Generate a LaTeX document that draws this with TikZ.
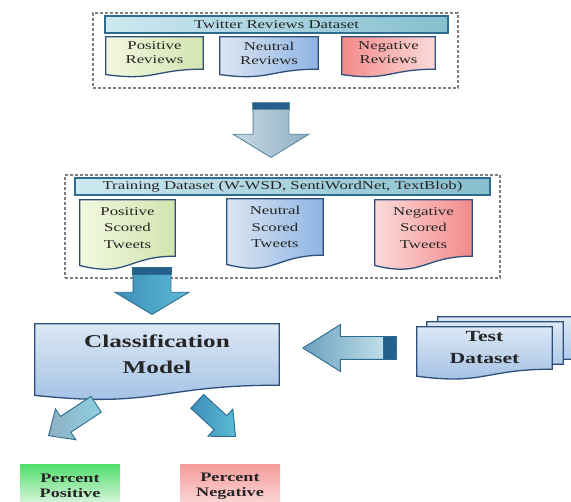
\documentclass[tikz,border=0pt]{standalone}
\usepackage{fontspec}
\setmainfont[FakeStretch=1.4]{Liberation Serif}
\usepackage{tikz}
\usetikzlibrary{shapes.arrows,calc,backgrounds}
\definecolor{docEdge}{HTML}{2C4F7C}
\definecolor{barEdge}{HTML}{2E6C8E}
\definecolor{barL}{HTML}{CDE8F0}
\definecolor{barR}{HTML}{86BFCF}
\definecolor{posL}{HTML}{F2F7DF}
\definecolor{posR}{HTML}{D3E4B0}
\definecolor{neuL}{HTML}{DCE6F2}
\definecolor{neuR}{HTML}{8EB4E3}
\definecolor{negL}{HTML}{FBDADA}
\definecolor{negR}{HTML}{F48A8A}
\definecolor{modelT}{HTML}{DCE8F5}
\definecolor{modelB}{HTML}{9FBEE3}
\definecolor{frameGray}{HTML}{7F7F7F}
\definecolor{txt}{HTML}{262626}
\definecolor{grayArrT}{HTML}{C8D9E3}
\definecolor{grayArrB}{HTML}{8FB0C4}
\definecolor{grayArrEdge}{HTML}{5C8AA3}
\definecolor{tealT}{HTML}{3D8DB8}
\definecolor{tealB}{HTML}{5CBCD4}
\definecolor{tealEdge}{HTML}{2E6A8E}
\definecolor{bandBlue}{HTML}{255F8C}
\definecolor{pctGreen}{HTML}{52DE6E}
\definecolor{pctGreenL}{HTML}{E5F8E8}
\definecolor{pctRed}{HTML}{F59C9C}
\definecolor{pctRedL}{HTML}{FCDCDC}

% outline of a document shape with a wavy lower edge, drawn round a node
\newcommand{\wavydoc}[2]{%
  \path[#2] (#1.north west) -- (#1.north east) -- (#1.south east)
    .. controls (#1.south) and ($(#1.south)!-0.38!(#1.north)$)
    .. ($(#1.south west)!-0.165!(#1.north west)$) -- cycle;}

\begin{document}
\begin{tikzpicture}[
  x=1pt, y=-1pt,
  every node/.style={text=txt},
  frame/.style={draw=frameGray, dash pattern=on 3pt off 2pt, line width=1.3pt, inner sep=0pt},
  bar/.style={draw=barEdge, line width=1.3pt, left color=barL, right color=barR, inner sep=0pt,
              font=\fontsize{12}{14}\selectfont},
  doc/.style={inner sep=0pt, align=center},
  docline/.style={draw=docEdge, line width=1.3pt},
  blockarrow/.style={single arrow, inner xsep=0pt, line width=0.9pt, anchor=tip},
  band/.style={fill=bandBlue, draw=#1, line width=0.9pt},
  pct/.style={inner sep=0pt, align=center, font=\bfseries\fontsize{13}{15}\selectfont}
]
  \useasboundingbox (0,0) rectangle (571,502);

  % input dataset
  \node[frame, minimum width=365pt, minimum height=75pt] (twframe) at (275.5,50.5) {};
  \node[bar, minimum width=343pt, minimum height=17pt] (twbar) at (276.5,24.5) {Twitter Reviews Dataset};
  \node[doc, font=\fontsize{12}{14}\selectfont, minimum width=97pt, minimum height=32pt] (posrev) at (154.5,53) {Positive\\Reviews};
  \node[doc, font=\fontsize{12}{14}\selectfont, minimum width=98pt, minimum height=32pt] (neurev) at (269,53) {Neutral\\Reviews};
  \node[doc, font=\fontsize{12}{14}\selectfont, minimum width=93pt, minimum height=32pt] (negrev) at (388.5,53) {Negative\\Reviews};

  \node[blockarrow, rotate=-90, minimum height=55pt, minimum width=75pt, inner ysep=17.5pt,
        single arrow head extend=20pt, single arrow tip angle=117,
        draw=grayArrEdge, left color=grayArrT, right color=grayArrB]
        (down1) at (271,158) {};
  \path[band=grayArrEdge] (down1.before tail) rectangle ([yshift=-7pt]down1.after tail);

  % scored training data
  \node[frame, minimum width=435pt, minimum height=103pt] (trframe) at (282.5,226.5) {};
  \node[bar, minimum width=415pt, minimum height=17pt] (trbar) at (282.5,186.5) {Training Dataset (W-WSD, SentiWordNet, TextBlob)};
  \node[doc, font=\fontsize{12}{16.5}\selectfont, minimum width=95pt, minimum height=56pt] (posscore) at (127.5,228) {Positive\\Scored\\Tweets};
  \node[doc, font=\fontsize{12}{16.5}\selectfont, minimum width=96pt, minimum height=56pt] (neuscore) at (275,227) {Neutral\\Scored\\Tweets};
  \node[doc, font=\fontsize{12}{16.5}\selectfont, minimum width=97pt, minimum height=56pt] (negscore) at (423.5,228) {Negative\\Scored\\Tweets};

  \node[blockarrow, rotate=-90, minimum height=47pt, minimum width=73pt, inner ysep=18.5pt,
        single arrow head extend=18pt, single arrow tip angle=118,
        draw=tealEdge, left color=tealT, right color=tealB]
        (down2) at (152,315) {};
  \path[band=tealEdge] (down2.before tail) rectangle ([yshift=-7pt]down2.after tail);

  % model and test data
  \node[doc, font=\bfseries\fontsize{18}{26}\selectfont, minimum width=244pt, minimum height=61pt] (model) at (157,354.5) {Classification\\Model};

  \node[doc, minimum width=136pt, minimum height=42pt] (test3) at (506,338) {};
  \node[doc, minimum width=136pt, minimum height=42pt] (test2) at (495,343) {};
  \node[doc, font=\bfseries\fontsize{15.5}{22}\selectfont, minimum width=135pt, minimum height=42pt] (test) at (484.5,348) {Test\\Dataset};

  \node[blockarrow, shape border rotate=180, minimum height=93pt, minimum width=46pt, inner ysep=11pt,
        single arrow head extend=12pt, single arrow tip angle=64,
        draw=barEdge, left color=grayArrB!55!tealT, right color=barL]
        (intest) at (302,348) {};
  \path[band=barEdge] (intest.before tail) rectangle ([xshift=-13pt]intest.after tail);

  % outputs
  \node[blockarrow, rotate=-146.6, minimum height=57pt, minimum width=36pt, inner ysep=9pt,
        single arrow head extend=9pt, single arrow tip angle=84,
        draw=tealEdge, left color=grayArrB, right color=tealB!70!white] (outpos) at (48,436) {};
  \node[blockarrow, rotate=-42.6, minimum height=52pt, minimum width=36pt, inner ysep=9pt,
        single arrow head extend=9pt, single arrow tip angle=84,
        draw=tealEdge, left color=tealT, right color=tealB] (outneg) at (236,437) {};

  \node[pct, top color=pctGreen, bottom color=pctGreenL, minimum width=100pt, minimum height=42pt] (pctpos) at (70,486) {Percent\\Positive};
  \node[pct, top color=pctRed, bottom color=pctRedL, minimum width=100pt, minimum height=42pt] (pctneg) at (230,486) {Percent\\Negative};

  \begin{scope}[on background layer]
    \wavydoc{posrev}{docline, left color=posL, right color=posR}
    \wavydoc{neurev}{docline, left color=neuL, right color=neuR}
    \wavydoc{negrev}{docline, left color=negR, right color=negL}
    \wavydoc{posscore}{docline, left color=posL, right color=posR}
    \wavydoc{neuscore}{docline, left color=neuL, right color=neuR}
    \wavydoc{negscore}{docline, left color=negL, right color=negR}
    \wavydoc{model}{docline, top color=modelT, bottom color=modelB}
    \wavydoc{test3}{docline, top color=modelT, bottom color=modelB}
    \wavydoc{test2}{docline, top color=modelT, bottom color=modelB}
    \wavydoc{test}{docline, top color=modelT, bottom color=modelB}
  \end{scope}
\end{tikzpicture}
\end{document}
